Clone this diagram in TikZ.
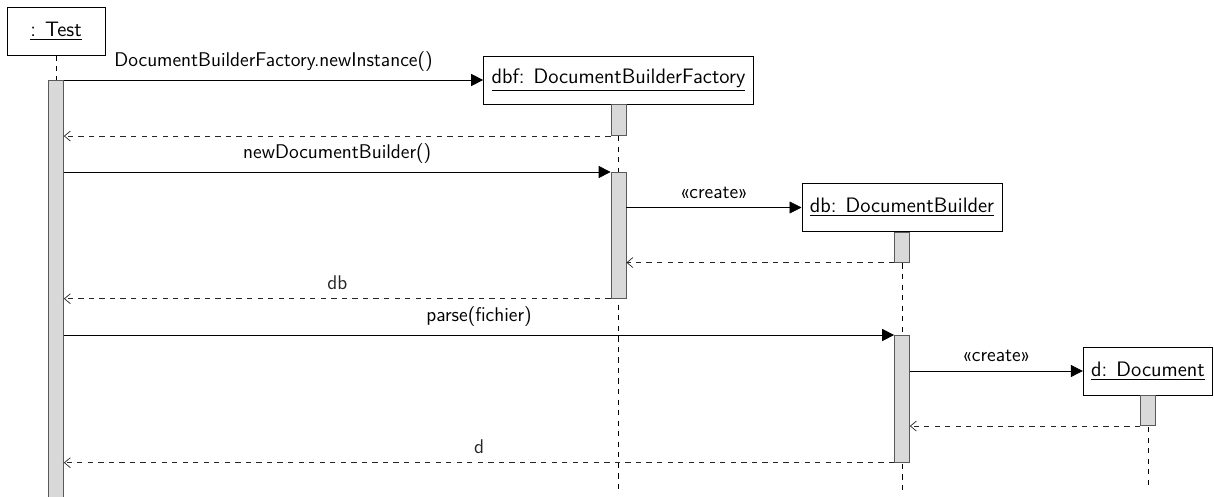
\documentclass[tikz,border=0pt]{standalone}
\usetikzlibrary{arrows.meta,positioning}

\tikzset{
  object/.style={draw, fill=white, minimum height=0.96cm, minimum width=1.96cm, inner xsep=0.16cm, font=\umlfont},
  bar/.style={draw=black!65, fill=black!15, minimum width=0.3cm, inner sep=0pt, anchor=north},
  lifeline/.style={dashed, black},
  call/.style={black, -{Triangle[length=0.24cm, width=0.24cm]}},
  reply/.style={black!85, dashed, -{Straight Barb[length=0.12cm, width=0.2cm]}},
  msg/.style={above=1.5pt, font=\msgfont}
}
\newcommand{\umlfont}{\sffamily\fontsize{11.9}{14}\selectfont}
\newcommand{\msgfont}{\sffamily\fontsize{11.3}{13.5}\selectfont}

\begin{document}
\begin{tikzpicture}[x=0.02cm, y=-0.02cm]
  \useasboundingbox (0,0) rectangle (1214,497);

  % objects
  \node[object] (test) at (56,31) {\underline{: Test}};
  \node[object] (dbf) at (618.5,80) {\underline{dbf: DocumentBuilderFactory}};
  \node[object] (db) at (902,207.5) {\underline{db: DocumentBuilder}};
  \node[object] (d) at (1148,371) {\underline{d: Document}};

  % lifelines
  \coordinate (end) at (0,490);
  \draw[lifeline] (test.south) -- (test.south |- 0,497);
  \draw[lifeline] (dbf.south) -- (dbf.south |- end);
  \draw[lifeline] (db.south) -- (db.south |- end);
  \draw[lifeline] (d.south) -- (d.south |- end);

  % activations
  \node[bar, minimum height=8.34cm] (tb) at (56,80) {};
  \node[bar, minimum height=0.62cm] (dbf1) at (dbf.south) {};
  \node[bar, minimum height=2.52cm] (dbf2) at (618.5,172) {};
  \node[bar, minimum height=0.6cm] (db1) at (db.south) {};
  \node[bar, minimum height=2.54cm] (db2) at (902,335) {};
  \node[bar, minimum height=0.6cm] (d1) at (d.south) {};

  % messages
  \draw[call] (tb.east |- dbf.west) -- node[msg] {DocumentBuilderFactory.newInstance()} (dbf.west);
  \draw[reply] (dbf1.south west) -- (tb.east |- dbf1.south);
  \draw[call] (tb.east |- dbf2.north) -- node[msg] {newDocumentBuilder()} (dbf2.north west);
  \draw[call] (dbf2.east |- db.west) -- node[msg] {«create»} (db.west);
  \draw[reply] (db1.south west) -- (dbf2.east |- db1.south);
  \draw[reply] (dbf2.south west) -- node[msg] {db} (tb.east |- dbf2.south);
  \draw[call] (tb.east |- db2.north) -- node[msg] {parse(fichier)} (db2.north west);
  \draw[call] (db2.east |- d.west) -- node[msg] {«create»} (d.west);
  \draw[reply] (d1.south west) -- (db2.east |- d1.south);
  \draw[reply] (db2.south west) -- node[msg] {d} (tb.east |- db2.south);
\end{tikzpicture}
\end{document}
